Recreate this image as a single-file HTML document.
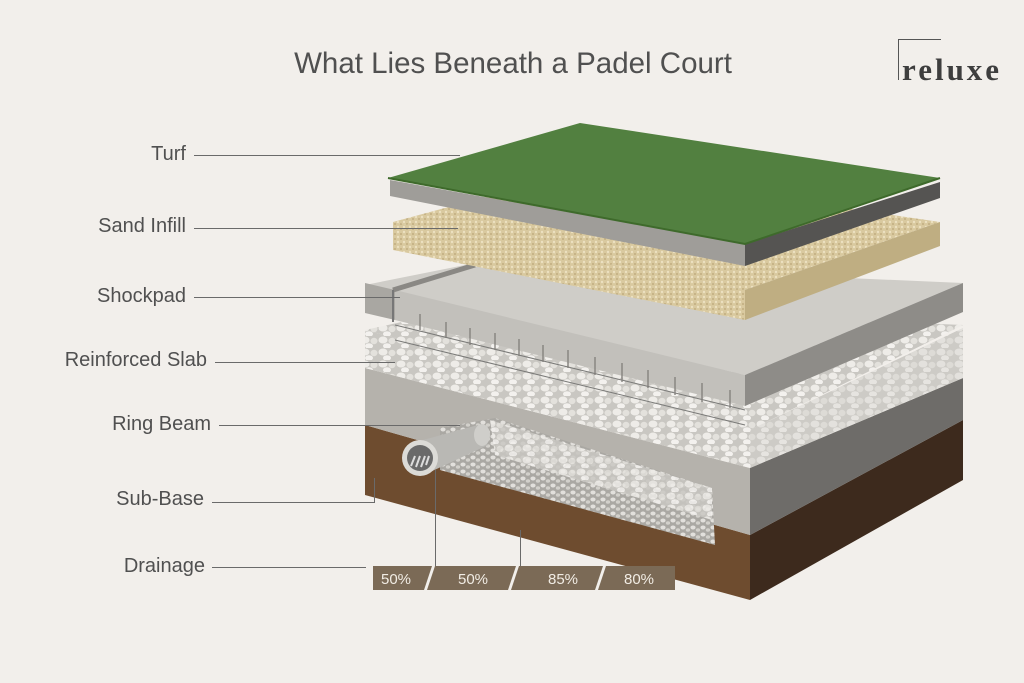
<!DOCTYPE html>
<html><head><meta charset="utf-8"><style>
html,body{margin:0;padding:0;background:#f2efeb;}
svg{display:block}
text{font-family:"Liberation Sans",sans-serif;fill:#505050}
</style></head><body>
<svg width="1024" height="683" viewBox="0 0 1024 683" xmlns="http://www.w3.org/2000/svg">
<defs>
<pattern id="peb" width="18" height="12" patternUnits="userSpaceOnUse">
<rect width="18" height="12" fill="#c9c7c2"/>
<ellipse cx="5" cy="4" rx="4.5" ry="3.5" fill="#eeece8"/>
<ellipse cx="14" cy="5" rx="3.5" ry="3.2" fill="#e3e1dc"/>
<ellipse cx="9" cy="10" rx="4" ry="2.8" fill="#f3f1ee"/>
</pattern>
<pattern id="peb2" width="10" height="7" patternUnits="userSpaceOnUse">
<rect width="10" height="7" fill="#aaa8a3"/>
<ellipse cx="3" cy="2.5" rx="2.6" ry="2" fill="#e2e0dc"/>
<ellipse cx="8" cy="5" rx="2.2" ry="1.8" fill="#d2d0cb"/>
</pattern>
<pattern id="sand" width="6" height="5" patternUnits="userSpaceOnUse">
<rect width="6" height="5" fill="#d9c99f"/>
<circle cx="2" cy="2" r="1.2" fill="#ece0c0"/>
<circle cx="5" cy="4" r="1" fill="#c2ae80"/>
</pattern>
</defs>

<text x="513" y="73" font-size="29.5" text-anchor="middle" fill="#474747">What Lies Beneath a Padel Court</text>
<path d="M898.5 80 V39.5 H941" fill="none" stroke="#555" stroke-width="1"/>
<text x="902" y="80" font-size="31" font-weight="bold" letter-spacing="3" style="font-family:'Liberation Serif',serif;fill:#3e3e3e">reluxe</text>

<polygon points="365,425 750,535 750,600 365,495" fill="#6e4c2f"/>
<polygon points="750,535 963,420 963,480 750,600" fill="#3d2a1d"/>
<polygon points="365,368 750,468 750,535 365,425" fill="#b5b2ac"/>
<polygon points="750,468 963,378 963,420 750,535" fill="#6e6c69"/>
<polygon points="440,428 495,418 712,488 715,545 660,530 440,470" fill="url(#peb2)"/>
<polygon points="490,420 712,488 712,520 495,455" fill="url(#peb)" opacity="0.85"/>
<polygon points="412,443 478,425 488,445 428,473" fill="#b9b8b4"/>
<ellipse cx="482" cy="435" rx="8" ry="11" fill="#cfceca"/>
<circle cx="420" cy="458" r="18" fill="#dcdbd7"/>
<circle cx="420" cy="458" r="13" fill="#6a6a6a"/>
<path d="M411 466 l4 -10 M416 467 l4 -11 M421 467 l4 -11 M426 465 l3 -9" stroke="#ddd" stroke-width="2"/>

<polygon points="365,330 480,305 963,325 750,430 365,330" fill="url(#peb)"/>
<polygon points="365,330 750,430 750,468 365,368" fill="url(#peb)"/>
<polygon points="750,430 963,328 963,378 750,468" fill="#d3d1cc"/>
<polygon points="750,430 963,328 963,378 750,468" fill="url(#peb)" opacity="0.6"/>
<g stroke="#7a7a78" stroke-width="1" fill="none">
<path d="M395 325 L745 410 M395 340 L745 425"/>
</g>

<polygon points="365,285 480,262 963,283 745,375" fill="#cfcdc8"/>
<polygon points="395,290 745,375 745,406 395,320" fill="#c2c0bb"/>
<polygon points="365,283 395,290 395,320 365,313" fill="#a9a7a2"/>
<polygon points="745,375 963,283 963,312 745,406" fill="#8e8c88"/>
<path d="M393 290 L475 265" stroke="#8a8884" stroke-width="5"/>
<path d="M393 290 V322" stroke="#777" stroke-width="2"/>
<g stroke="#807e7a" stroke-width="1.3">
<line x1="420" y1="314" x2="420" y2="330"/><line x1="446" y1="322" x2="446" y2="338"/><line x1="470" y1="328" x2="470" y2="345"/><line x1="495" y1="333" x2="495" y2="350"/><line x1="519" y1="339" x2="519" y2="356"/><line x1="543" y1="345" x2="543" y2="362"/><line x1="568" y1="350" x2="568" y2="368"/><line x1="595" y1="357" x2="595" y2="375"/><line x1="622" y1="363" x2="622" y2="382"/><line x1="648" y1="370" x2="648" y2="388"/><line x1="675" y1="377" x2="675" y2="395"/><line x1="702" y1="383" x2="702" y2="402"/><line x1="730" y1="390" x2="730" y2="408"/>
</g>

<polygon points="393,222 585,170 940,222 745,290" fill="url(#sand)"/>
<polygon points="393,222 745,290 745,320 393,250" fill="url(#sand)"/>
<polygon points="745,290 940,222 940,246 745,320" fill="#bfae82"/>

<polygon points="390,196 745,266 745,244 390,180" fill="#9f9d99"/>
<polygon points="745,244 940,182 940,198 745,266" fill="#555452"/>
<polygon points="388,178 580,123 940,178 745,244" fill="#528040"/>
<path d="M388 178 L745 244 L940 178" fill="none" stroke="#3e6a2b" stroke-width="2"/>

<g fill="#7b6a56">
<polygon points="373,566 432,566 424,590 373,590"/>
<polygon points="435,566 516,566 508,590 427,590"/>
<polygon points="519,566 603,566 595,590 511,590"/>
<polygon points="606,566 675,566 675,590 598,590"/>
</g>
<g font-size="15">
<text x="381" y="584" style="fill:#f1ece4">50%</text>
<text x="458" y="584" style="fill:#f1ece4">50%</text>
<text x="548" y="584" style="fill:#f1ece4">85%</text>
<text x="624" y="584" style="fill:#f1ece4">80%</text>
</g>

<g stroke="#6a6a6a" stroke-width="1" fill="none">
<path d="M194 155.5 H460"/>
<path d="M194 228.5 H458"/>
<path d="M194 297.5 H400"/>
<path d="M215 362.5 H395"/>
<path d="M219 425.5 H460"/>
<path d="M212 502.5 H374.5 V478"/>
<path d="M212 567.5 H366"/>
<path d="M435.5 470 V566"/>
<path d="M520.5 530 V566"/>
</g>

<g font-size="20" text-anchor="end">
<text x="186" y="160">Turf</text>
<text x="186" y="232">Sand Infill</text>
<text x="186" y="302">Shockpad</text>
<text x="207" y="366">Reinforced Slab</text>
<text x="211" y="430">Ring Beam</text>
<text x="204" y="505">Sub-Base</text>
<text x="205" y="572">Drainage</text>
</g>
</svg>
</body></html>
